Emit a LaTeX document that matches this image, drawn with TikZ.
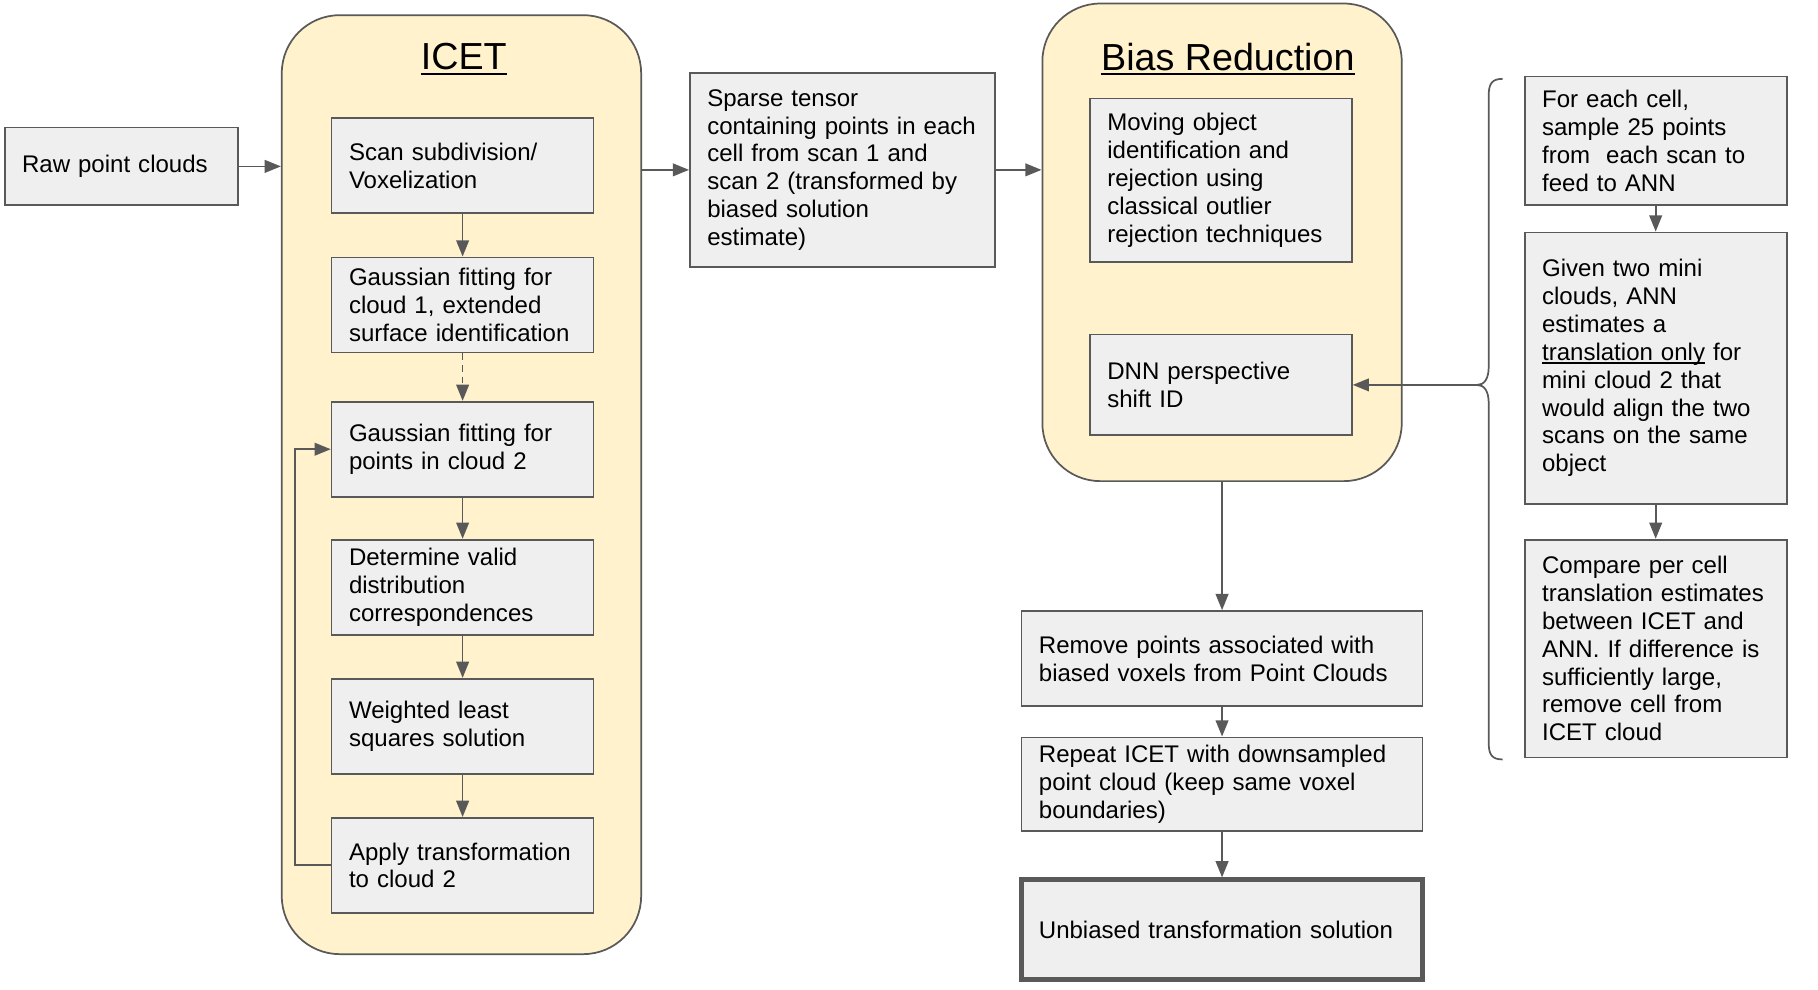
\documentclass[tikz,border=0pt]{standalone}
\usepackage{fontspec}
\setmainfont{Liberation Sans}
\usepackage{tikz}
\usetikzlibrary{arrows.meta,positioning,calc}

\definecolor{boxfill}{HTML}{EFEFEF}
\definecolor{edge}{HTML}{595959}
\definecolor{groupfill}{HTML}{FFF2CC}

\newcommand{\bodysize}{\fontsize{11.8}{13.66}\selectfont}
\newcommand{\headsize}{\fontsize{18.5}{22}\selectfont}
% underline close to the baseline
\newcommand{\ulinetext}[3][1.6pt]{\leavevmode\setbox0\hbox{#3}\rlap{\rule[-#1]{\wd0}{#2}}#3}

\begin{document}
\begin{tikzpicture}[x=0.02cm,y=-0.02cm,->,>={Triangle[length=0.28cm,width=0.22cm]},
  line width=0.85pt,
  group node/.style={draw=edge,fill=groupfill,rounded corners=1cm,minimum width=6.2cm},
  proc node/.style={draw=edge,fill=boxfill,align=left,inner xsep=0.3cm,inner ysep=0pt,
    font=\bodysize,text width=3.92cm,minimum height=1.64cm},
  wide node/.style={proc node,text width=6.32cm},
  title node/.style={font=\headsize}]

  \useasboundingbox (0,0) rectangle (1568,853);

  % containers
  \node[group node,minimum height=16.2cm] (icet) at (398,418) {};
  \node[title node] (icettitle) at (400,51) {\ulinetext[2.6pt]{1.1pt}{ICET}};
  \node[group node,minimum height=8.24cm] (bias) at (1054,209) {};
  \node[title node] (biastitle) at (1059,51) {\ulinetext[2.6pt]{1.1pt}{Bias Reduction}};

  % input
  \node[proc node,text width=3.42cm,minimum height=1.34cm] (raw) at (104.5,143.5) {Raw point clouds};

  % ICET steps
  \node[proc node] (s1) at (399,143) {Scan subdivision/\\Voxelization};
  \node[proc node,below=0.73cm of s1] (s2) {Gaussian fitting for\\cloud 1, extended\\surface identification};
  \node[proc node,below=0.82cm of s2] (s3) {Gaussian fitting for\\points in cloud 2};
  \node[proc node,below=0.71cm of s3] (s4) {Determine valid\\distribution\\correspondences};
  \node[proc node,below=0.73cm of s4] (s5) {Weighted least\\squares solution};
  \node[proc node,below=0.73cm of s5] (s6) {Apply transformation\\to cloud 2};

  % sparse tensor
  \node[proc node,text width=4.66cm,minimum height=3.34cm] (sparse) at (726.5,146.5) {Sparse tensor\\containing points in each\\cell from scan 1 and\\scan 2 (transformed by\\biased solution\\estimate)};

  % bias reduction
  \node[proc node,minimum height=2.82cm] (moving) at (1053,155.5) {Moving object\\identification and\\rejection using\\classical outlier\\rejection techniques};
  \node[proc node,minimum height=1.74cm,below=1.22cm of moving] (dnn) {DNN perspective\\shift ID};

  % lower chain
  \node[wide node] (remove) at (1054,568) {Remove points associated with\\biased voxels from Point Clouds};
  \node[wide node,minimum height=1.62cm,below=0.51cm of remove] (repeat) {Repeat ICET with downsampled\\point cloud (keep same voxel\\boundaries)};
  \node[wide node,minimum height=1.72cm,line width=2.3pt,below=0.78cm of repeat] (final) {Unbiased transformation solution};

  % ANN column
  \node[proc node,minimum height=2.22cm] (sample) at (1428,121.5) {For each cell,\\sample 25 points\\from\ \ each scan to\\feed to ANN};
  \node[proc node,minimum height=4.68cm,below=0.44cm of sample] (ann) {Given two mini\\clouds, ANN\\estimates a\\\ulinetext{0.6pt}{translation only} for\\mini cloud 2 that\\would align the two\\scans on the same\\object};
  \node[proc node,minimum height=3.76cm,below=0.59cm of ann] (compare) {Compare per cell\\translation estimates\\between ICET and\\ANN. If difference is\\sufficiently large,\\remove cell from\\ICET cloud};

  % brace
  \coordinate (tip) at (1274,332);
  \draw[-,edge] (1296,68) .. controls (1287,68) and (1284,72) .. (1284,82) -- (1284,316)
    .. controls (1284,327) and (1280,332) .. (tip)
    .. controls (1280,332) and (1284,337) .. (1284,348) -- (1284,641)
    .. controls (1284,651) and (1287,655) .. (1296,655);

  % flow
  \draw[->,edge] (raw.east) -- (raw.east -| icet.west);
  \draw[->,edge] (icet.east |- sparse.west) -- (sparse.west);
  \draw[->,edge] (sparse.east) -- (sparse.east -| bias.west);
  \draw[->,edge] (s1) -- (s2);
  \draw[->,edge,dash pattern=on 3.3pt off 2.4pt] (s2) -- (s3);
  \draw[->,edge] (s3) -- (s4);
  \draw[->,edge] (s4) -- (s5);
  \draw[->,edge] (s5) -- (s6);
  \draw[->,edge] (s6.west) -- ++(-31,0) |- (s3.west);
  \draw[->,edge] (bias.south) -- (remove.north);
  \draw[->,edge] (remove) -- (repeat);
  \draw[->,edge] (repeat) -- (final);
  \draw[->,edge] (sample) -- (ann);
  \draw[->,edge] (ann) -- (compare);
  \draw[->,edge] (tip) -- (dnn.east);
\end{tikzpicture}
\end{document}
